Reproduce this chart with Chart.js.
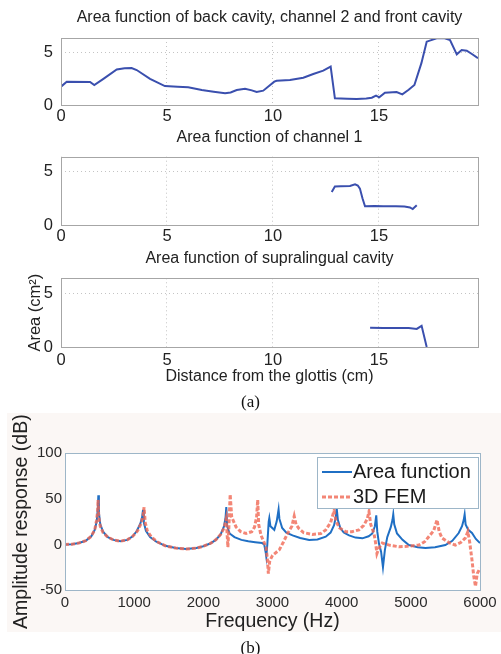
<!DOCTYPE html>
<html>
<head>
<meta charset="utf-8">
<script src="https://cdn.jsdelivr.net/npm/chart.js@4.4.1/dist/chart.umd.min.js"></script>
<style>
  body { margin: 0; width: 501px; height: 654px; background: #fff; overflow: hidden; position: relative; }
  canvas, .band, .cap { position: absolute; }
  .band { left: 7px; top: 413px; width: 494px; height: 219px; background: #fbf7f5; }
  .cap { left: 0; width: 501px; text-align: center; font: 17px "Liberation Serif", "DejaVu Serif", serif; line-height: 20px; color: #111; }
</style>
</head>
<body>
<canvas id="back" width="501" height="130" style="left:0;top:0"></canvas>
<canvas id="ch1" width="501" height="130" style="left:0;top:120px"></canvas>
<canvas id="supra" width="501" height="152" style="left:0;top:240px"></canvas>
<div class="cap" style="top:392px">(a)</div>
<div class="band"></div>
<canvas id="resp" width="501" height="221" style="left:0;top:413px"></canvas>
<div class="cap" style="top:638px">(b)</div>
<script>
// ---- (a) area functions: distance (cm) vs area (cm^2) ----
const backX = [0, 0.27, 1.37, 1.57, 2.0, 2.63, 3.0, 3.33, 3.57, 4.2, 4.9, 5.5, 6.0, 6.64, 7.2, 7.74, 8.0, 8.29, 8.68, 9.0, 9.23, 9.54, 10.06, 10.17, 10.8, 11.43, 11.9, 12.37, 12.72, 12.92, 13.5, 13.95, 14.4, 14.66, 14.86, 15.01, 15.28, 15.83, 16.1, 16.4, 16.67, 17.0, 17.25, 17.72, 18.1, 18.35, 18.67, 18.9, 19.14, 19.4, 19.67];
const backY = [1.75, 2.23, 2.2, 1.9, 2.5, 3.4, 3.52, 3.53, 3.34, 2.5, 1.81, 1.74, 1.69, 1.43, 1.27, 1.12, 1.2, 1.43, 1.56, 1.4, 1.24, 1.37, 2.23, 2.32, 2.39, 2.61, 2.96, 3.28, 3.66, 0.64, 0.6, 0.57, 0.62, 0.7, 0.89, 0.73, 1.18, 1.24, 1.02, 1.45, 1.91, 4.0, 6.05, 6.37, 6.37, 6.2, 4.84, 5.25, 5.19, 4.85, 4.46];

const ch1X = [12.77, 12.92, 13.2, 13.63, 13.87, 14.0, 14.1, 14.22, 14.34, 14.8, 15.2, 15.8, 16.2, 16.46, 16.59, 16.78];
const ch1Y = [3.09, 3.6, 3.62, 3.66, 3.82, 3.7, 3.41, 2.5, 1.75, 1.78, 1.75, 1.75, 1.73, 1.65, 1.5, 1.85];

const supraX = [14.58, 15.2, 15.8, 16.4, 16.78, 17.01, 17.25];
const supraY = [1.8, 1.78, 1.78, 1.76, 1.68, 1.97, 0];

// ---- (b) amplitude response: frequency (Hz) vs dB ----
const afFreq = [0, 100, 200, 300, 380, 430, 460, 475, 482, 490, 510, 550, 620, 700, 800, 900, 980, 1040, 1090, 1115, 1128, 1140, 1170, 1230, 1320, 1450, 1600, 1750, 1900, 2000, 2100, 2180, 2250, 2300, 2322, 2332, 2345, 2380, 2450, 2550, 2650, 2750, 2850, 2880, 2900, 2910, 2925, 2945, 2954, 2970, 3026, 3060, 3075, 3088, 3100, 3140, 3200, 3290, 3400, 3530, 3650, 3770, 3840, 3890, 3915, 3928, 3945, 3980, 4030, 4107, 4200, 4300, 4390, 4443, 4480, 4500, 4515, 4539, 4570, 4597, 4625, 4659, 4710, 4735, 4746, 4760, 4800, 4880, 4971, 5100, 5211, 5350, 5499, 5600, 5692, 5740, 5765, 5778, 5792, 5830, 5884, 5940, 6000];
const afDb = [0, 0.3, 1.5, 4, 9, 16, 26, 40, 54, 35, 22, 14, 8, 5, 3.5, 5, 9, 15, 23, 30, 38, 24, 15, 8, 3, -1.5, -4, -5, -4, -2, 1, 5, 11, 20, 30, 41, 20, 12, 8, 5, 3.5, 2.5, 1.5, 0, -8, -13.5, 0, 25, 29, 20, 16, 25, 32, 38.5, 28, 18, 13, 10, 7, 5, 5.5, 8.5, 13, 21, 30, 40, 27, 18, 13, 10, 7.5, 6.7, 9, 12, 20, 32, 14, 1, -8, -25, -6, 8, 19, 27, 33, 22, 12, 5, -0.7, -3, -4, -3, -0.7, 4, 12.5, 20, 27, 33, 22, 16, 12.5, 6, 1.5];

const femFreq = [0, 100, 200, 300, 380, 430, 455, 470, 478, 488, 510, 550, 620, 700, 800, 900, 980, 1050, 1100, 1130, 1143, 1160, 1190, 1250, 1330, 1450, 1600, 1750, 1900, 2000, 2100, 2180, 2250, 2300, 2330, 2345, 2355, 2370, 2388, 2410, 2474, 2540, 2618, 2700, 2740, 2770, 2786, 2800, 2834, 2880, 2906, 2925, 2940, 2960, 3000, 3098, 3160, 3218, 3280, 3314, 3340, 3386, 3450, 3578, 3700, 3770, 3840, 3890, 3920, 3970, 4058, 4150, 4251, 4320, 4370, 4395, 4420, 4467, 4490, 4510, 4540, 4587, 4700, 4827, 4950, 5115, 5200, 5259, 5330, 5379, 5410, 5451, 5550, 5643, 5720, 5787, 5825, 5850, 5884, 5910, 5935, 5960, 6000];
const femDb = [0, 0.3, 1.5, 4, 9, 16, 26, 35, 49, 30, 20, 13, 8, 5, 3.5, 5, 9, 15, 23, 32, 41, 24, 15, 8, 3, -1.5, -4, -5, -4, -2, 1, 5, 11, 18, 28, 10, -3, 20, 55, 30, 19, 14, 12, 14, 19, 30, 49, 22, 10, 2, -3, -15, -32, -18, -12, -6, 3, 12, 20, 31, 22, 17, 13, 11, 12, 16, 24, 37, 25, 18, 14, 14, 16, 21, 28, 36, 22, 12, 2, -10, -4, 1.5, -1, -2.5, -2, -0.7, 3, 8.5, 15, 27, 14, 7, 2, -0.7, 2, 7, 14, 3, -17, -35, -46, -32, -26];

const FONT = '"Liberation Sans", Arial, Helvetica, sans-serif';
const BLUE_A = '#3a4fae';

Chart.defaults.font.family = FONT;
Chart.defaults.color = '#222';

// box round the plot area, like the matlab axes
const framePlugin = {
  id: 'frame',
  beforeDraw(chart, args, opts) {
    if (!opts.fill) return;
    const a = chart.chartArea;
    chart.ctx.save();
    chart.ctx.fillStyle = opts.fill;
    chart.ctx.fillRect(a.left, a.top, a.right - a.left, a.bottom - a.top);
    chart.ctx.restore();
  },
  afterDraw(chart, args, opts) {
    const a = chart.chartArea;
    const ctx = chart.ctx;
    ctx.save();
    ctx.strokeStyle = opts.color || '#999';
    ctx.lineWidth = 1;
    ctx.strokeRect(Math.round(a.left) + 0.5, Math.round(a.top) + 0.5, Math.round(a.right - a.left), Math.round(a.bottom - a.top));
    ctx.restore();
  }
};

// legend box in the upper right corner of the plot
const boxLegend = {
  id: 'boxLegend',
  afterDatasetsDraw(chart) {
    const { ctx, chartArea } = chart;
    const w = 161, h = 51;
    const left = Math.round(chartArea.right) - w - 2;
    const top = Math.round(chartArea.top) + 4;
    ctx.save();
    ctx.fillStyle = '#fff';
    ctx.fillRect(left, top, w, h);
    ctx.strokeStyle = '#9db6c8';
    ctx.lineWidth = 1;
    ctx.strokeRect(left + 0.5, top + 0.5, w, h);
    chart.data.datasets.forEach((ds, i) => {
      const y = top + 15 + i * 25;
      ctx.strokeStyle = ds.borderColor;
      ctx.lineWidth = ds.borderWidth;
      ctx.setLineDash(ds.borderDash || []);
      ctx.beginPath();
      ctx.moveTo(left + 5, y);
      ctx.lineTo(left + 35, y);
      ctx.stroke();
      ctx.setLineDash([]);
      ctx.fillStyle = '#1a1a1a';
      ctx.font = '20px ' + FONT;
      ctx.textBaseline = 'middle';
      ctx.fillText(ds.label, left + 36, y);
    });
    ctx.restore();
  }
};

function areaChart(id, xs, ys, cfg) {
  const points = xs.map((x, i) => ({ x: x, y: ys[i] }));
  const xScale = {
    type: 'linear', min: 0, max: 19.67,
    afterFit: s => { s.height = cfg.xHeight; },
    ticks: { stepSize: 5, includeBounds: false, padding: cfg.xPad, maxRotation: 0, font: { size: 16.5 }, color: '#222' },
    grid: { color: '#c4c4c4', drawTicks: false },
    border: { display: false, dash: [1, 3] }
  };
  if (cfg.xTitle) {
    xScale.title = { display: true, text: cfg.xTitle, font: { size: 16 }, color: '#222', padding: { top: 0, bottom: 5.4 } };
  }
  const yScale = {
    min: 0, max: 6.4,
    afterFit: s => { s.width = 61; },
    ticks: { stepSize: 5, includeBounds: false, padding: 8, font: { size: 16.5 }, color: '#222' },
    grid: { color: '#c4c4c4', drawTicks: false },
    border: { display: false, dash: [1, 3] }
  };
  if (cfg.yTitle) {
    yScale.title = { display: true, text: cfg.yTitle, font: { size: 16.5 }, color: '#222', padding: { top: 25.1, bottom: 0 } };
  }

  return new Chart(document.getElementById(id), {
    type: 'line',
    data: {
      datasets: [{ data: points, borderColor: BLUE_A, borderWidth: 2, pointRadius: 0, tension: 0 }]
    },
    options: {
      responsive: false,
      animation: false,
      layout: { padding: { left: 0, right: 23, top: 0, bottom: 0 } },
      plugins: {
        legend: { display: false },
        tooltip: { enabled: false },
        title: {
          display: true, text: cfg.title, fullSize: false, color: '#222',
          font: { size: 16, weight: 'normal' },
          padding: { top: cfg.titleTop, bottom: cfg.titleBottom }
        },
        frame: { color: '#a6a6a6' }
      },
      scales: { x: xScale, y: yScale }
    },
    plugins: [framePlugin]
  });
}

areaChart('back', backX, backY, {
  title: 'Area function of back cavity, channel 2 and front cavity',
  titleTop: 8.4, titleBottom: 10.4, xHeight: 25, xPad: 2
});
areaChart('ch1', ch1X, ch1Y, {
  title: 'Area function of channel 1',
  titleTop: 8.4, titleBottom: 9.1, xHeight: 25, xPad: 2
});
areaChart('supra', supraX, supraY, {
  title: 'Area function of supralingual cavity',
  titleTop: 9.4, titleBottom: 9.7, xHeight: 45, xPad: 3.4,
  xTitle: 'Distance from the glottis (cm)', yTitle: 'Area (cm²)'
});

new Chart(document.getElementById('resp'), {
  type: 'line',
  data: {
    datasets: [
      {
        label: 'Area function',
        data: afFreq.map((f, i) => ({ x: f, y: afDb[i] })),
        borderColor: '#1f6fc4', borderWidth: 2, pointRadius: 0, tension: 0, order: 1
      },
      {
        label: '3D FEM',
        data: femFreq.map((f, i) => ({ x: f, y: femDb[i] })),
        borderColor: 'rgba(240, 104, 84, 0.8)', borderWidth: 3, borderDash: [4, 2], pointRadius: 0, tension: 0, order: 0
      }
    ]
  },
  options: {
    responsive: false,
    animation: false,
    layout: { padding: { left: 0, right: 21, top: 40.3, bottom: 0 } },
    plugins: {
      legend: { display: false },
      tooltip: { enabled: false },
      frame: { color: '#9db6c8', fill: '#fff' }
    },
    scales: {
      x: {
        type: 'linear', min: 0, max: 6000,
        afterFit: s => { s.height = 44; },
        ticks: { stepSize: 1000, padding: 4, maxRotation: 0, font: { size: 15 }, color: '#2a2a2a', callback: v => String(v) },
        grid: { display: false, drawTicks: false },
        border: { display: false },
        title: { display: true, text: 'Frequency (Hz)', font: { size: 19.5 }, color: '#222', padding: { top: 0, bottom: 0.3 } }
      },
      y: {
        min: -50, max: 100,
        afterFit: s => { s.width = 65; },
        ticks: { stepSize: 50, padding: 3, font: { size: 15 }, color: '#2a2a2a' },
        grid: { display: false, drawTicks: false },
        border: { display: false },
        title: { display: true, text: 'Amplitude response (dB)', font: { size: 19.5 }, color: '#222', padding: { top: 10, bottom: 0 } }
      }
    }
  },
  plugins: [framePlugin, boxLegend]
});
</script>
</body>
</html>
